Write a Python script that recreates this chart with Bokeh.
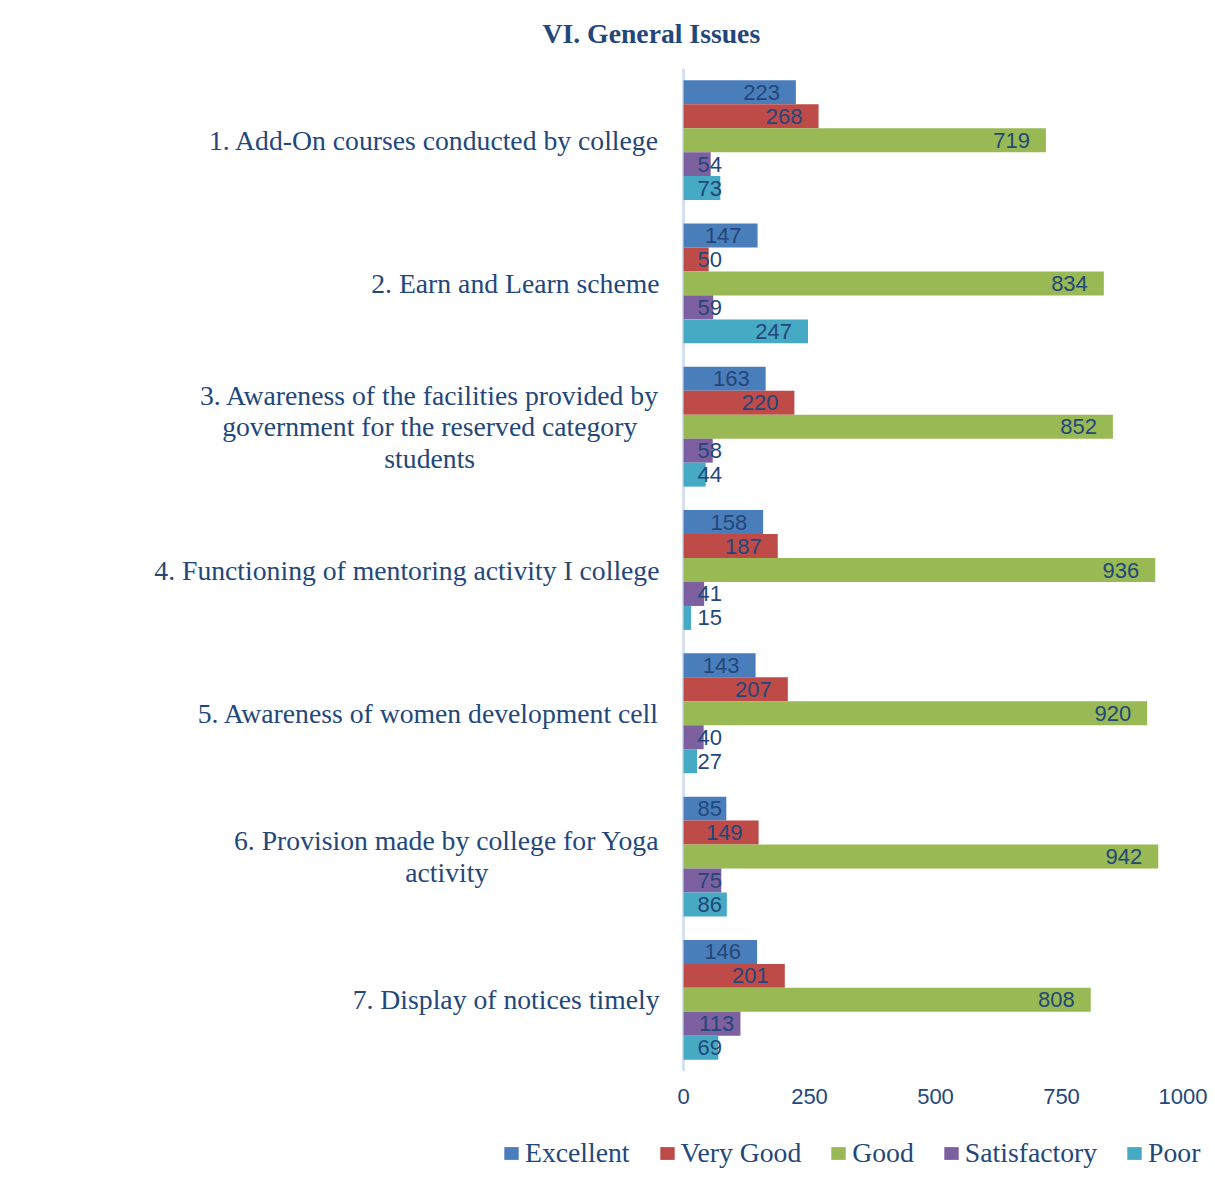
from bokeh.plotting import figure
from bokeh.layouts import column
from bokeh.models import Range1d, FactorRange, ColumnDataSource, FixedTicker, Span, Legend, LegendItem
from bokeh.transform import dodge
from bokeh.core.properties import value
from bokeh.embed import file_html
from bokeh.resources import INLINE

# ---------------- data ----------------
categories = [
    "1. Add-On courses conducted by college",
    "2. Earn and Learn scheme",
    "3. Awareness of the facilities provided by\ngovernment for the reserved category\nstudents",
    "4. Functioning of mentoring activity I college",
    "5. Awareness of women development cell",
    "6. Provision made by college for Yoga\nactivity",
    "7. Display of notices timely",
]
series_names = ["Excellent", "Very Good", "Good", "Satisfactory", "Poor"]
excellent = [223, 147, 163, 158, 143, 85, 146]
very_good = [268, 50, 220, 187, 207, 149, 201]
good = [719, 834, 852, 936, 920, 942, 808]
satisfactory = [54, 59, 58, 41, 40, 75, 113]
poor = [73, 247, 44, 15, 27, 86, 69]
tick_values = [0, 250, 500, 750, 1000]
title_text = "VI. General Issues"

# ---------------- style ----------------
colors = ["#4A7EBB", "#BE4B48", "#98B954", "#7D60A0", "#46AAC5"]
TEXT = "#23477A"
W = 1207
H_MAIN, H_LEG = 1120, 49
ZERO_PX = 683            # screen position of x = 0
PX_PER_UNIT = 504 / 1000.0
BAR_H = 0.1673
LABEL_FS = 22
SERIF_FS = "27.7px"

x_start = -ZERO_PX / PX_PER_UNIT
x_end = (W - ZERO_PX) / PX_PER_UNIT

p = figure(width=W, height=H_MAIN, output_backend="svg", toolbar_location=None,
           y_range=FactorRange(*categories[::-1], range_padding=0),
           x_range=Range1d(x_start, x_end), y_axis_location=None,
           min_border_left=0, min_border_right=0, min_border_top=67,
           min_border_bottom=H_MAIN - 1071,
           background_fill_color="white", border_fill_color="white")
p.outline_line_color = None
p.grid.visible = False

# title
p.title.text = title_text
p.title.align = "left"
p.title.offset = 542
p.title.vertical_align = "top"
p.title.text_font = "Liberation Serif"
p.title.text_font_size = "27.7px"
p.title.text_font_style = "bold"
p.title.text_color = TEXT
p.title.standoff = 35

# x axis
ax = p.xaxis[0]
ax.ticker = FixedTicker(ticks=tick_values)
ax.axis_line_color = None
ax.major_tick_line_color = None
ax.minor_tick_line_color = None
ax.major_tick_out = 0
ax.major_tick_in = 0
ax.major_label_standoff = 17
ax.major_label_text_font = "Liberation Sans"
ax.major_label_text_font_size = "22px"
ax.major_label_text_color = TEXT

# vertical axis line at 0
p.add_layout(Span(location=0, dimension="height", line_color="#D5E1F1", line_width=3, level="underlay"))

all_vals = [excellent, very_good, good, satisfactory, poor]
offsets = [2 * BAR_H, BAR_H, 0.0, -BAR_H, -2 * BAR_H]


def label_x(v):
    w = len(str(v)) * 0.556 * LABEL_FS
    return max(v - 16 / PX_PER_UNIT, (14 + w) / PX_PER_UNIT)


for name, vals, col, off in zip(series_names, all_vals, colors, offsets):
    src = ColumnDataSource(dict(cat=categories, val=vals,
                                lx=[label_x(v) for v in vals],
                                txt=[str(v) for v in vals]))
    p.hbar(y=dodge("cat", off, range=p.y_range), right="val", left=0, height=BAR_H,
           source=src, fill_color=col, line_color=None)
    p.text(x="lx", y=dodge("cat", off, range=p.y_range), text="txt", source=src,
           text_align="right", text_baseline="middle",
           text_font=value("Liberation Sans"), text_font_size=f"{LABEL_FS}px", text_color=TEXT)

# category labels
cat_src = ColumnDataSource(dict(cat=categories, label=categories))
p.text(x=0, y="cat", text="label", source=cat_src, x_offset=-24,
       anchor="center_right", text_align="center", text_baseline="middle",
       text_font=value("Liberation Serif"), text_font_size=SERIF_FS, text_color=TEXT,
       text_line_height=1.01)

# ---------------- legend strip ----------------
lf = figure(width=W, height=H_LEG, output_backend="svg", toolbar_location=None,
            x_range=Range1d(0, 1), y_range=Range1d(0, 1),
            x_axis_location=None, y_axis_location=None,
            min_border_left=0, min_border_right=0, min_border_top=0, min_border_bottom=0,
            background_fill_color="white", border_fill_color="white")
lf.outline_line_color = None
lf.grid.visible = False
items = []
for name, col in zip(series_names, colors):
    # zero-length bar: only used to carry the legend swatch style
    r = lf.hbar(y=[0.5], right=[0], left=[0], height=0.5, fill_color=col, line_color=None)
    items.append(LegendItem(label=name, renderers=[r]))
legend = Legend(items=items, orientation="horizontal", location=(502, 0),
                padding=0, margin=0, border_line_color=None, background_fill_alpha=0,
                spacing=28, glyph_width=18, glyph_height=16, label_standoff=5,
                label_text_font="Liberation Serif", label_text_font_size=SERIF_FS,
                label_text_color=TEXT)
lf.add_layout(legend, "center")

layout = column(p, lf, spacing=0)
open("out.html", "w").write(file_html(layout, INLINE))
